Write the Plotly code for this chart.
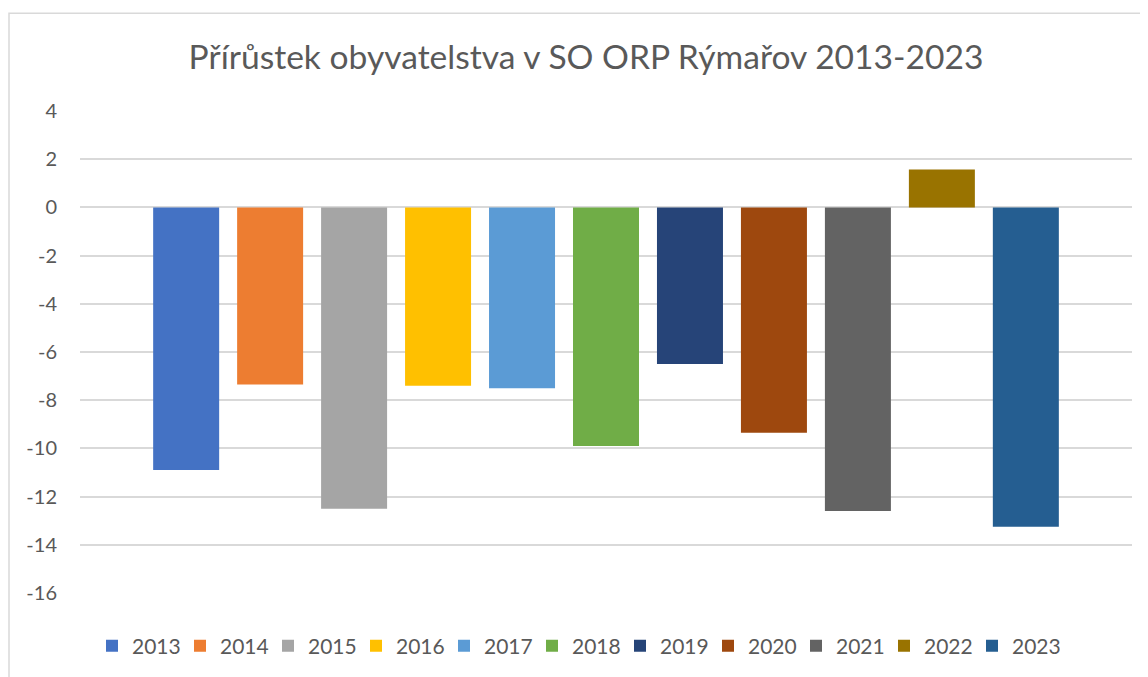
import plotly.graph_objects as go

years = ["2013", "2014", "2015", "2016", "2017", "2018", "2019", "2020", "2021", "2022", "2023"]
values = [-10.9, -7.35, -12.5, -7.4, -7.5, -9.9, -6.5, -9.35, -12.6, 1.57, -13.25]
colors = ["#4472C4", "#ED7D31", "#A5A5A5", "#FFC000", "#5B9BD5", "#70AD47",
          "#264478", "#9E480E", "#636363", "#997300", "#255E91"]
y_ticks = [4, 2, 0, -2, -4, -6, -8, -10, -12, -14, -16]
title_text = "Přírůstek obyvatelstva v SO ORP Rýmařov 2013-2023"

FONT = "Lato"
GRAY = "#595959"

fig = go.Figure()
for yr, v, c in zip(years, values, colors):
    fig.add_trace(go.Bar(x=[""], y=[v], name=yr, marker=dict(color=c, line=dict(width=0))))

# page body has an 8px margin; figure is sized to fill the rest of the window
W, H = 1140, 669
L, R, T, B = 72, 16, 103, 83
ph = H - T - B
pw = W - L - R

fig.update_layout(
    width=W, height=H,
    margin=dict(l=L, r=R, t=T, b=B, pad=0),
    paper_bgcolor="white", plot_bgcolor="white",
    barmode="group", bargap=0.122, bargroupgap=0.214,
    title=dict(text=title_text, x=578 / W, xref="container", xanchor="center",
               y=1 - 49 / H, yref="container", yanchor="middle",
               font=dict(family=FONT, size=33.6, color=GRAY)),
    font=dict(family=FONT, color=GRAY, size=21),
    showlegend=True,
    legend=dict(orientation="h", x=(568 - L) / pw, xanchor="center",
                y=-52 / ph, yanchor="middle",
                font=dict(family=FONT, size=21, color=GRAY),
                entrywidth=43, entrywidthmode="pixels",
                traceorder="normal", bgcolor="rgba(0,0,0,0)"),
    xaxis=dict(showticklabels=False, showgrid=False, zeroline=False, showline=False, ticks=""),
    yaxis=dict(range=[-16, 4], tickvals=y_ticks, ticktext=[str(t) for t in y_ticks],
               showgrid=True, gridcolor="#D9D9D9", gridwidth=1.5,
               zeroline=True, zerolinecolor="#D9D9D9", zerolinewidth=1.5,
               showline=False, ticks="", ticklabelstandoff=22,
               tickfont=dict(family=FONT, size=20, color=GRAY)),
    shapes=[dict(type="rect", xref="paper", yref="paper",
                 x0=(1 - L) / pw, x1=1.1, y0=-0.3, y1=1 + (T - 5) / ph,
                 line=dict(color="#D9D9D9", width=1.5), fillcolor="rgba(0,0,0,0)",
                 layer="below")],
)

fig.write_html("out.html")
